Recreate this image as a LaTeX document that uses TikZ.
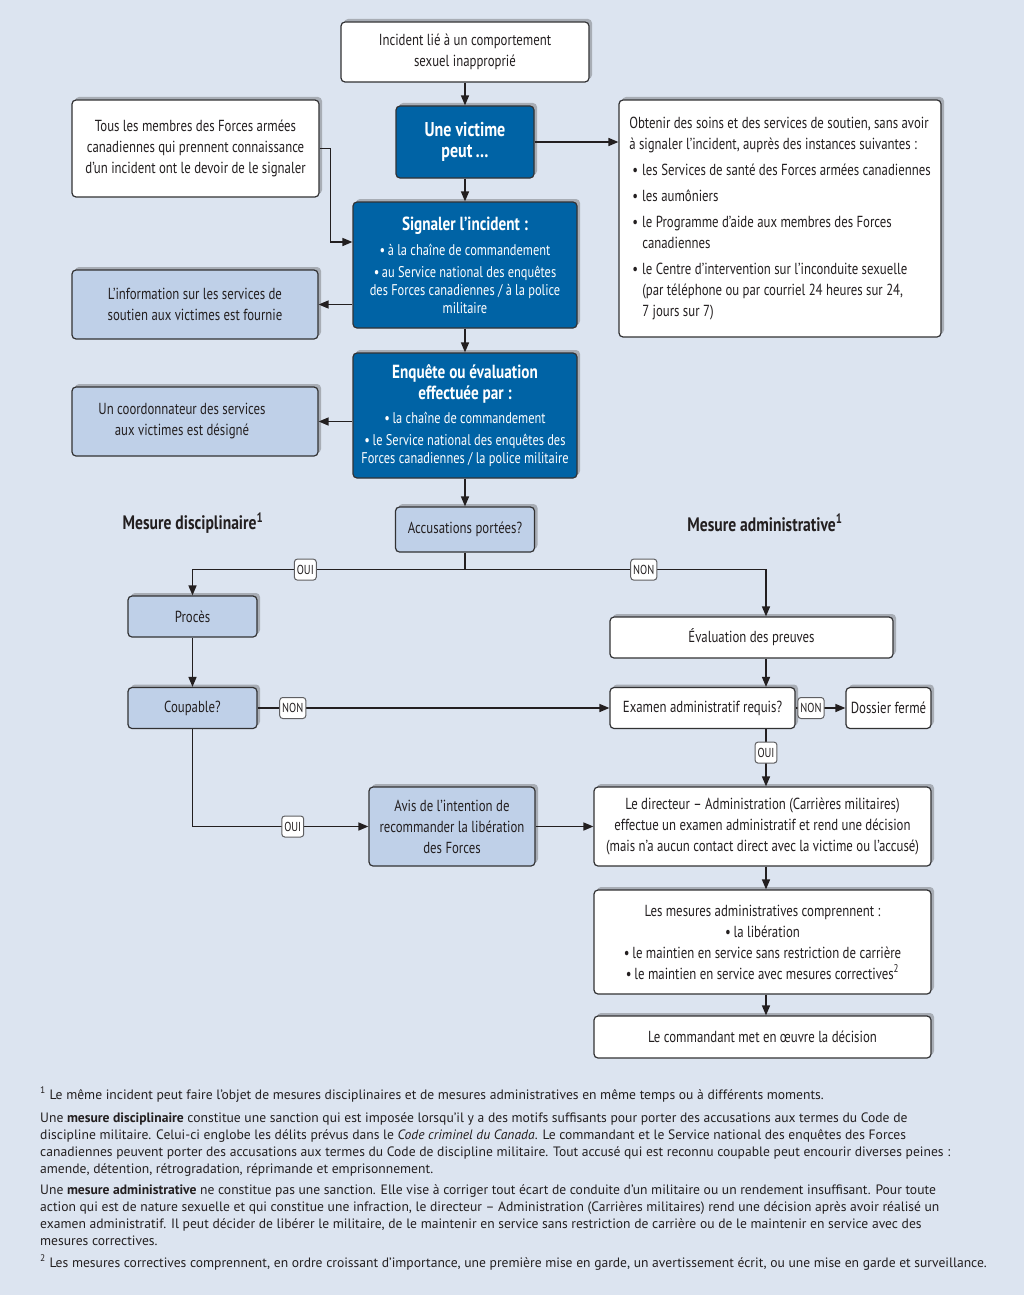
\documentclass[tikz,border=0pt]{standalone}
\usepackage{fontspec}
\setmainfont{PT Sans}
\newfontfamily\cond{PT Sans}[FakeStretch=0.8]
\usepackage{tikz}
\usetikzlibrary{arrows.meta,shadows,calc}
\definecolor{bgblue}{RGB}{220,228,240}
\definecolor{darkblue}{RGB}{0,99,165}
\definecolor{lightblue}{RGB}{191,208,232}
\definecolor{ink}{RGB}{35,31,32}
\definecolor{boxline}{RGB}{50,50,52}
\definecolor{shadowgrey}{RGB}{168,173,181}
\definecolor{taggrey}{RGB}{95,95,98}
\newcommand{\itm}{\makebox[13pt][l]{\hspace{3pt}•}}
\newcommand{\ttl}[1]{{\bfseries\fontsize{19}{21}\selectfont #1}}

\begin{document}
\begin{tikzpicture}[x=1pt,y=-1pt]
		\tikzstyle{box} = [draw=boxline,line width=1.2pt,rounded corners=4pt,align=center,text=ink,inner sep=2pt,font=\cond\fontsize{16}{21}\selectfont,drop shadow={shadow xshift=3pt,shadow yshift=3pt,fill=shadowgrey,opacity=1}]
		\tikzstyle{wbox} = [box,fill=white]
		\tikzstyle{lbox} = [box,fill=lightblue]
		\tikzstyle{dbox} = [box,fill=darkblue,text=white,font=\cond\fontsize{15.5}{18}\selectfont]
		\tikzstyle{arr} = [draw=ink,line width=1.5pt,-{Triangle[length=10pt,width=8pt]}]
		\tikzstyle{line} = [draw=ink,line width=1.5pt]
		\tikzstyle{tag} = [draw=taggrey,fill=white,rounded corners=3pt,line width=1pt,text=ink,inner xsep=2.5pt,inner ysep=1pt,minimum height=21pt,font=\cond\fontsize{13}{13}\selectfont]
		\tikzstyle{head} = [text=ink,font=\cond\bfseries\fontsize{19.5}{21}\selectfont]
		% Background
		\fill[bgblue] (0,0) rectangle (1024,1295);
		% Top part
		\node[wbox,minimum width=248pt,minimum height=60pt] at (465,52)(inc) {Incident lié à un comportement\\ sexuel inapproprié};
		\node[dbox,minimum width=138pt,minimum height=72pt,font=\cond\bfseries\fontsize{20}{21}\selectfont] at (465,142)(vic) {Une victime\\ peut\,…};
		\node[wbox,minimum width=247pt,minimum height=97pt] at (195.5,148.5)(tous) {Tous les membres des Forces armées\\ canadiennes qui prennent connaissance\\ d’un incident ont le devoir de le signaler};
		\node[wbox,align=left,minimum width=322pt,minimum height=237pt] at (780,218.5)(soins) {Obtenir des soins et des services de soutien, sans avoir\\
			à signaler l’incident, auprès des instances suivantes~:\\[5pt]
			\itm les Services de santé des Forces armées canadiennes\\[5pt]
			\itm les aumôniers\\[5pt]
			\itm le Programme d’aide aux membres des Forces\\
			\hspace*{13pt}canadiennes\\[5pt]
			\itm le Centre d’intervention sur l’inconduite sexuelle\\
			\hspace*{13pt}(par téléphone ou par courriel 24 heures sur 24,\\
			\hspace*{13pt}7 jours sur 7)};
		\node[dbox,minimum width=224pt,minimum height=126pt] at (465,265)(sig) {\ttl{Signaler l’incident~:}\\[7pt]
			•\,à la chaîne de commandement\\[4pt]
			•\,au Service national des enquêtes\\ des Forces canadiennes / à la police\\ militaire};
		\node[lbox,minimum width=246pt,minimum height=69pt] at (195,304.5)(info) {L’information sur les services de\\ soutien aux victimes est fournie};
		\node[dbox,minimum width=224pt,minimum height=125pt] at (465,415.5)(enq) {\ttl{Enquête ou évaluation}\\[3pt] \ttl{effectuée par~:}\\[6pt]
			•\,la chaîne de commandement\\[4pt]
			•\,le Service national des enquêtes des\\ Forces canadiennes / la police militaire};
		\node[lbox,minimum width=246pt,minimum height=69pt] at (195,421.5)(coord) {Un coordonnateur des services\hspace*{26pt}\\ aux victimes est désigné\hspace*{26pt}};
		\node[lbox,minimum width=139pt,minimum height=45pt] at (465,529.5)(acc) {Accusations portées?};
		% Headings
		\node[head] at (193,523)(hdisc) {Mesure disciplinaire\textsuperscript{1}};
		\node[head] at (765,523)(hadm) {Mesure administrative\textsuperscript{1}};
		% Disciplinary side
		\node[lbox,minimum width=129pt,minimum height=41pt] at (192.5,616.5)(proc) {Procès};
		\node[lbox,minimum width=129pt,minimum height=41pt] at (192.5,708)(coup) {Coupable?};
		\node[lbox,minimum width=166pt,minimum height=79pt] at (452,826.5)(avis) {Avis de l’intention de\\ recommander la libération\\ des Forces};
		% Administrative side
		\coordinate (acol) at (766,0);
		\node[wbox,minimum width=283pt,minimum height=41pt] at (751.5,637.5)(eval) {Évaluation des preuves};
		\node[wbox,minimum width=185pt,minimum height=41pt] at (702.5,708)(exam) {Examen administratif requis?};
		\node[wbox,minimum width=85pt,minimum height=41pt] at (888.5,708)(doss) {Dossier fermé};
		\node[wbox,minimum width=337pt,minimum height=79pt] at (762.5,826.5)(dir) {Le directeur – Administration (Carrières militaires)\\ effectue un examen administratif et rend une décision\\ (mais n’a aucun contact direct avec la victime ou l’accusé)};
		\node[wbox,minimum width=337pt,minimum height=104pt] at (762.5,942)(mes) {Les mesures administratives comprennent~:\\ •\,la libération\\ •\,le maintien en service sans restriction de carrière\\ •\,le maintien en service avec mesures correctives\textsuperscript{2}};
		\node[wbox,minimum width=337pt,minimum height=42pt] at (762.5,1037)(cmd) {Le commandant met en œuvre la décision};
		% Connectors
		\draw[arr] (inc) -- (vic);
		\draw[arr] (vic) -- (sig);
		\draw[arr] (vic.east) -- (vic.east -| soins.west);
		\draw[arr] (tous.east) -- ++(11,0) |- ([yshift=23pt]sig.west);
		\draw[arr] (info.east -| sig.west) -- (info.east);
		\draw[arr] (sig) -- (enq);
		\draw[arr] (coord.east -| enq.west) -- (coord.east);
		\draw[arr] (enq) -- (acc);
		\draw[line] (acc.south) -- ++(0,17) coordinate (split);
		\draw[arr] (split) -| node[tag,pos=0.293] {OUI} (proc.north);
		\draw[arr] (split) -| node[tag,pos=0.297] {NON} (eval.north -| acol);
		\draw[arr] (proc) -- (coup);
		\draw[arr] (coup.east) -- node[tag,pos=0.1] {NON} (exam.west);
		\draw[arr] (coup.south) |- node[tag,pos=0.785] {OUI} (avis.west);
		\draw[arr] (avis) -- (dir);
		\draw[arr] (eval.south -| acol) -- (exam.north -| acol);
		\draw[arr] (exam.east) -- node[tag,pos=0.31] {NON} (doss.west);
		\draw[arr] (exam.south -| acol) -- node[tag,pos=0.41] {OUI} (dir.north -| acol);
		\draw[arr] (dir.south -| acol) -- (mes.north -| acol);
		\draw[arr] (mes.south -| acol) -- (cmd.north -| acol);
		% Notes
		\node[anchor=north west,align=left,inner sep=0pt,text=ink,font=\fontsize{13.6}{17}\selectfont] at (40,1087)(notes) {\textsuperscript{1} Le même incident peut faire l’objet de mesures disciplinaires et de mesures administratives en même temps ou à différents moments.\\[6pt]
			Une \textbf{mesure disciplinaire} constitue une sanction qui est imposée lorsqu’il y a des motifs suffisants pour porter des accusations aux termes du Code de\\
			discipline militaire. Celui-ci englobe les délits prévus dans le \textit{Code criminel du Canada}. Le commandant et le Service national des enquêtes des Forces\\
			canadiennes peuvent porter des accusations aux termes du Code de discipline militaire. Tout accusé qui est reconnu coupable peut encourir diverses peines~:\\
			amende, détention, rétrogradation, réprimande et emprisonnement.\\[4pt]
			Une \textbf{mesure administrative} ne constitue pas une sanction. Elle vise à corriger tout écart de conduite d’un militaire ou un rendement insuffisant. Pour toute\\
			action qui est de nature sexuelle et qui constitue une infraction, le directeur – Administration (Carrières militaires) rend une décision après avoir réalisé un\\
			examen administratif. Il peut décider de libérer le militaire, de le maintenir en service sans restriction de carrière ou de le maintenir en service avec des\\
			mesures correctives.\\[5pt]
			\textsuperscript{2} Les mesures correctives comprennent, en ordre croissant d’importance, une première mise en garde, un avertissement écrit, ou une mise en garde et surveillance.};
\end{tikzpicture}
\end{document}
